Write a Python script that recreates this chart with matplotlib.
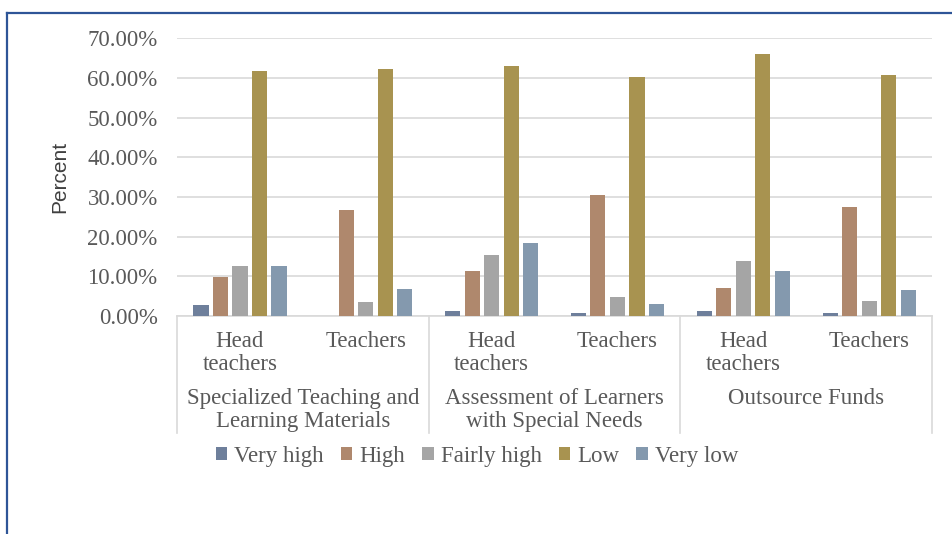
import matplotlib.pyplot as plt
import matplotlib.transforms as mtransforms
from matplotlib.lines import Line2D
import numpy as np

# data (percent)
categories = ["Head\nteachers", "Teachers", "Head\nteachers", "Teachers", "Head\nteachers", "Teachers"]
groups = [["Specialized Teaching and", "Learning Materials"],
          ["Assessment of Learners", "with Special Needs"],
          ["Outsource Funds"]]
levels = ["Very high", "High", "Fairly high", "Low", "Very low"]

very_high = [2.8, 0.0, 1.4, 0.8, 1.4, 0.8]
high = [9.8, 26.8, 11.3, 30.6, 7.0, 27.6]
fairly_high = [12.7, 3.5, 15.3, 4.9, 14.0, 3.7]
low = [61.8, 62.3, 63.1, 60.2, 66.1, 60.7]
very_low = [12.7, 6.8, 18.5, 3.0, 11.3, 6.5]

values = [very_high, high, fairly_high, low, very_low]
colors = ["#6E7F9B", "#AF886D", "#A5A5A5", "#A89350", "#8499AE"]

text_col = "#595959"
grid_col = "#D9D9D9"
serif = "Liberation Serif"
fs = 16.5

fig = plt.figure(figsize=(9.52, 5.34), dpi=100)
ax = fig.add_axes([0.186, 0.408, 0.793, 0.520])

x = np.arange(len(categories))
step = 0.155
width = 0.12
for i, (vals, col) in enumerate(zip(values, colors)):
    ax.bar(x + (i - 2) * step, np.array(vals) / 100, width=width, color=col,
           label=levels[i], zorder=3)

ax.set_xlim(-0.5, len(categories) - 0.5)
ax.set_ylim(0, 0.70)
ticks = np.arange(0, 0.71, 0.10)
ax.set_yticks(ticks)
ax.set_yticklabels([f"{v * 100:.2f}%" for v in ticks], family=serif, fontsize=fs, color=text_col)
ax.yaxis.grid(True, color=grid_col, linewidth=1.2, zorder=0)
ax.tick_params(axis="y", length=0, pad=14)

ax.set_xticks(x)
ax.set_xticklabels(categories, family=serif, fontsize=fs, color=text_col)
for lbl in ax.get_xticklabels():
    lbl.set_linespacing(1.12)
ax.tick_params(axis="x", length=0, pad=11)

for s in ["top", "right", "left"]:
    ax.spines[s].set_visible(False)
ax.spines["bottom"].set_color(grid_col)
ax.spines["bottom"].set_linewidth(1.2)

ax.set_ylabel("Percent", family="Liberation Sans", fontsize=15, color="#404040", va="center")
ax.yaxis.set_label_coords(-0.155, 0.5)

# category box below the axis
trans = mtransforms.blended_transform_factory(ax.transData, ax.transAxes)
for xb in [-0.5, 1.5, 3.5, 5.5]:
    ax.add_line(Line2D([xb, xb], [0, -0.42], transform=trans, color=grid_col,
                       linewidth=1.2, clip_on=False))

for gi, lines in enumerate(groups):
    for li, line in enumerate(lines):
        ax.text(2 * gi + 0.5, -0.298 - 0.083 * li, line, transform=trans,
                ha="center", va="center", family=serif, fontsize=fs, color=text_col)

fig.legend(loc="center", bbox_to_anchor=(0.501, 0.145), ncol=5, frameon=False,
           prop={"family": serif, "size": fs}, labelcolor=text_col,
           handlelength=0.5, handleheight=0.5, handletextpad=0.3, columnspacing=0.75)

# blue frame (top and left edges visible)
frame_col = "#2E5597"
fig.add_artist(Line2D([7 / 952, 1.0], [1 - 13 / 534, 1 - 13 / 534], transform=fig.transFigure,
                      color=frame_col, linewidth=1.6))
fig.add_artist(Line2D([7 / 952, 7 / 952], [0, 1 - 13 / 534], transform=fig.transFigure,
                      color=frame_col, linewidth=1.6))

fig.savefig("out.png", dpi=100)
